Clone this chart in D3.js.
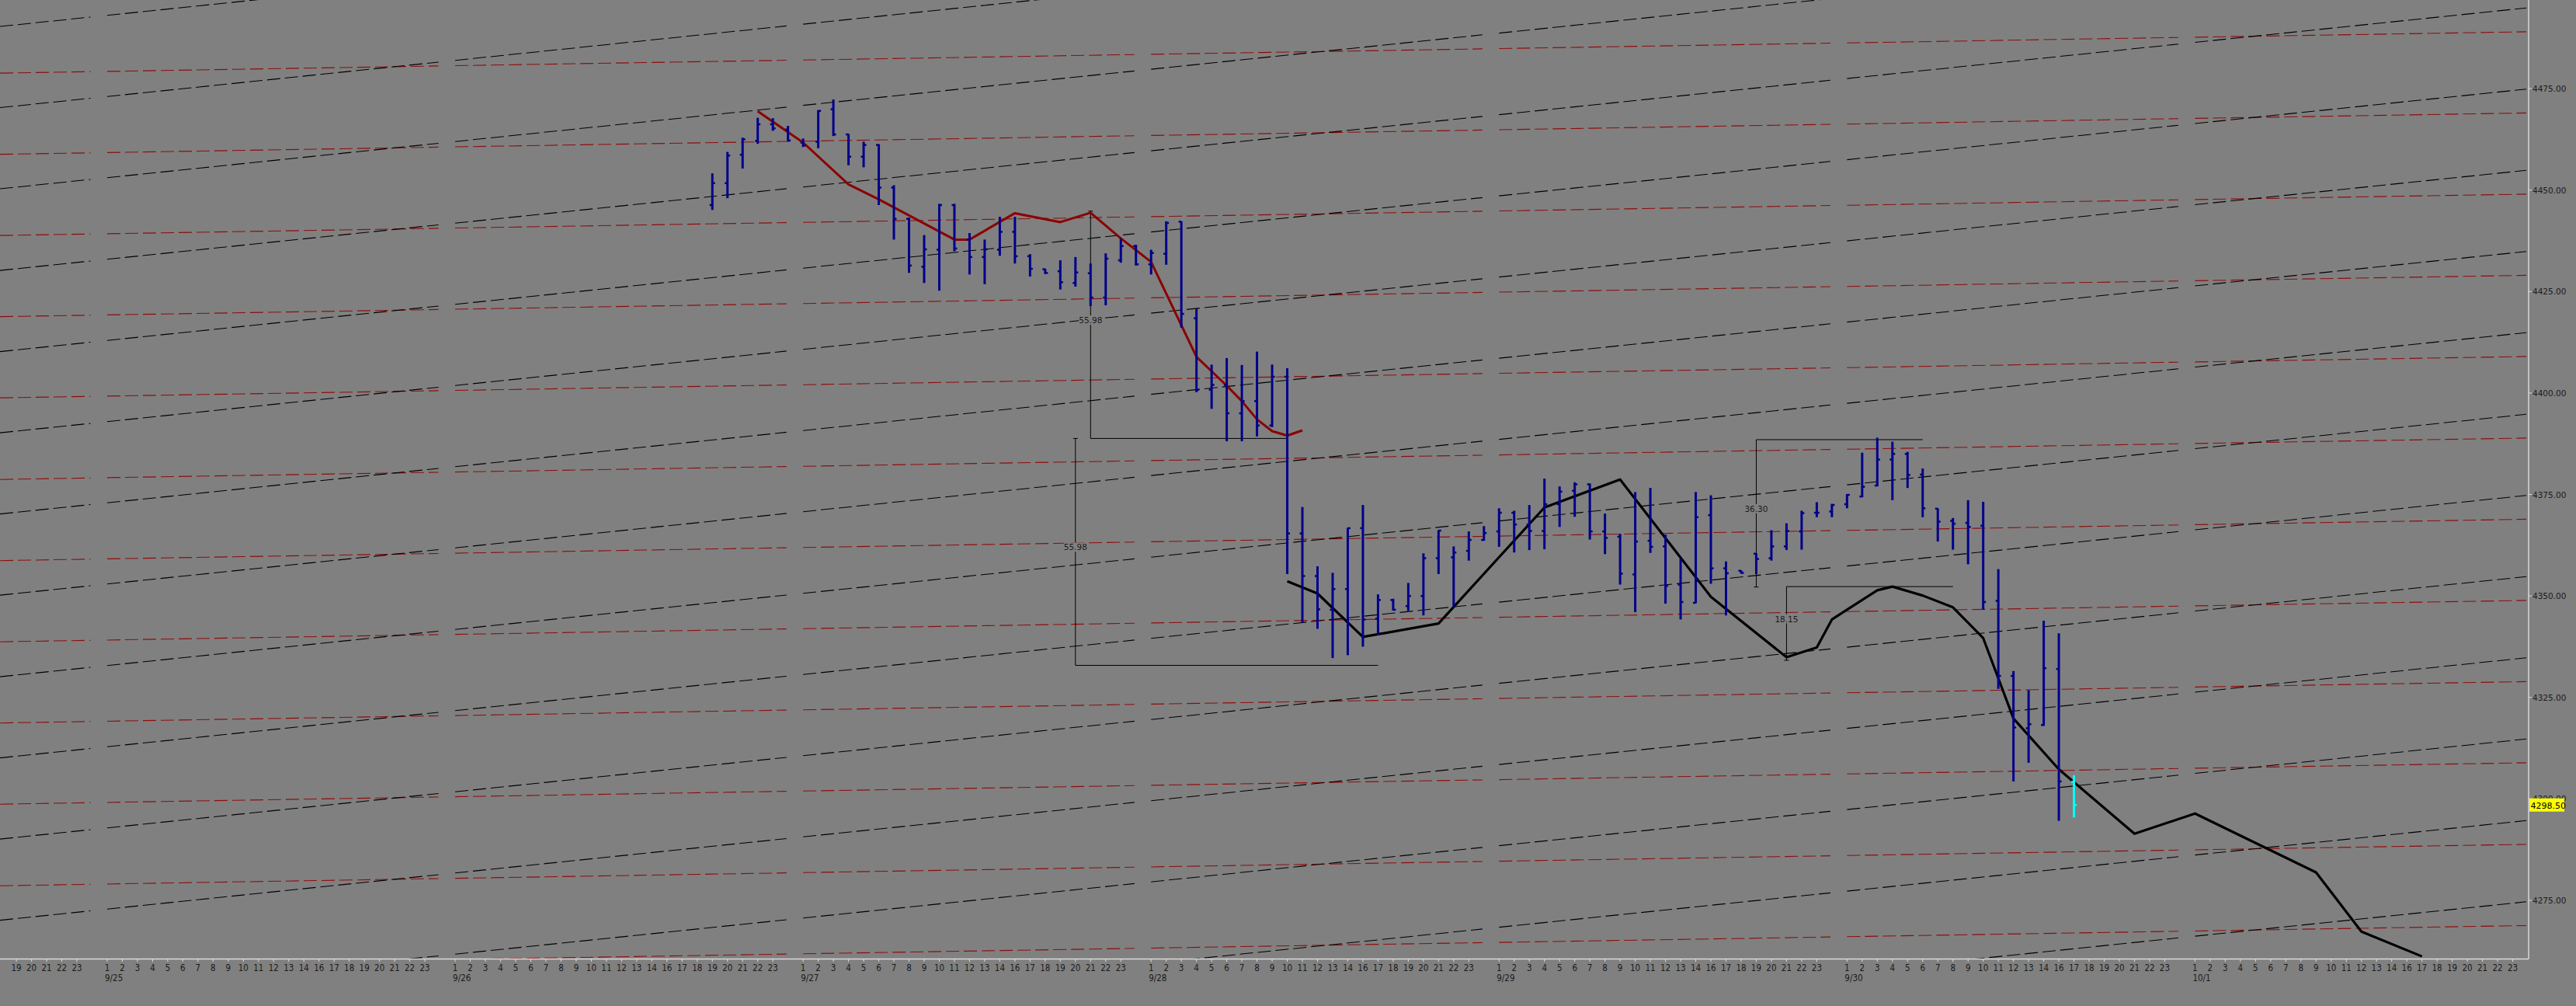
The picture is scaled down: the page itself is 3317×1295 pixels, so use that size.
<!DOCTYPE html>
<html><head><meta charset="utf-8">
<script src="https://cdn.jsdelivr.net/npm/d3@7"></script>
<style>html,body{margin:0;padding:0;background:#808080;overflow:hidden}svg{display:block}</style>
</head><body>
<svg id="c" width="3317" height="1295"></svg>
<script>
// ---------- data ----------
const days = ["9/24","9/25","9/26","9/27","9/28","9/29","9/30","10/1"];
const hourSlots = [1,2,3,4,5,6,7,8,9,10,11,12,13,14,16,17,18,19,20,21,22,23,24];
const hourLabels = [1,2,3,4,5,6,7,8,9,10,11,12,13,14,16,17,18,19,20,21,22,23];
const yTicks = [4275,4300,4325,4350,4375,4400,4425,4450,4475];
const lastPrice = 4298.50;
const firstBarTime = "9/26 19";

const opens  = [4446.3,4451.7,4458.7,4462.1,4466.2,4464.9,4461.7,4461.9,4469.9,4463.7,4458.2,4461.1,4450.6,4442.9,4431.1,4435.3,4446.3,4437.8,4433.5,4435.3,4439.7,4433.7,4430.5,4430.0,4427.1,4429.5,4423.5,4432.7,4436.2,4431.7,4434.3,4442.2,4418.4,4400.8,4402.0,4395.0,4398.0,4392.0,4404.0,4365.4,4354.9,4346.6,4351.7,4366.7,4344.4,4349.0,4347.5,4350.0,4359.3,4359.5,4361.1,4363.8,4365.9,4370.5,4367.6,4366.0,4372.6,4375.9,4377.5,4365.9,4364.6,4355.3,4363.6,4362.2,4352.8,4348.3,4369.9,4356.8,4356.2,4360.4,4359.3,4362.2,4365.9,4370.5,4370.8,4372.6,4374.5,4377.2,4383.6,4385.0,4379.9,4371.5,4368.5,4368.0,4367.3,4348.8,4330.3,4317.4,4318.2,4332.0,4304.2];
const highs  = [4454.1,4459.4,4462.9,4467.8,4467.7,4465.8,4462.7,4469.7,4472.3,4463.8,4461.9,4461.3,4451.2,4443.2,4438.9,4446.6,4446.6,4439.4,4437.8,4443.4,4443.4,4434.2,4430.6,4432.7,4433.5,4431.9,4434.4,4438.1,4436.5,4435.3,4442.3,4442.3,4420.8,4407.0,4408.6,4406.9,4410.2,4407.0,4406.1,4371.9,4357.3,4355.7,4366.8,4372.4,4350.4,4349.3,4353.2,4360.5,4366.2,4362.2,4365.9,4367.2,4371.6,4371.0,4372.4,4378.9,4377.0,4378.0,4377.7,4370.3,4365.3,4375.6,4376.6,4365.1,4359.2,4375.6,4374.8,4358.5,4356.3,4360.5,4366.2,4367.9,4371.0,4373.1,4372.7,4375.1,4385.3,4389.0,4388.0,4385.5,4381.4,4371.6,4369.2,4373.6,4373.2,4356.6,4331.5,4326.8,4343.9,4340.8,4305.8];
const lows   = [4445.1,4448.0,4455.3,4461.4,4464.6,4461.9,4460.6,4460.3,4463.3,4456.1,4455.6,4446.3,4437.8,4429.6,4427.1,4425.2,4434.9,4429.2,4426.8,4433.8,4431.9,4428.7,4429.3,4425.5,4426.2,4421.4,4421.6,4432.1,4431.4,4429.2,4431.6,4416.1,4400.2,4396.1,4388.1,4388.1,4389.3,4391.6,4355.4,4343.4,4341.9,4334.7,4335.4,4337.5,4340.4,4346.4,4346.3,4345.2,4355.4,4347.2,4358.7,4363.6,4362.1,4360.7,4361.3,4361.5,4367.0,4369.5,4363.9,4360.3,4352.8,4346.0,4360.6,4348.1,4344.2,4348.2,4353.0,4345.2,4355.5,4355.4,4358.7,4361.3,4361.4,4369.4,4369.4,4371.6,4374.3,4377.0,4373.6,4376.6,4369.4,4363.4,4361.4,4357.8,4346.6,4327.1,4304.3,4308.9,4318.0,4294.6,4295.4];
const closes = [4451.7,4458.5,4462.5,4466.2,4465.2,4462.2,4461.0,4469.5,4463.7,4458.2,4461.1,4450.6,4442.9,4431.4,4435.4,4446.3,4435.6,4433.5,4435.4,4439.7,4433.7,4430.6,4429.6,4427.3,4429.7,4423.5,4433.1,4436.2,4431.7,4434.5,4441.9,4419.5,4400.8,4402.0,4395.0,4398.0,4392.0,4404.0,4365.4,4354.9,4346.7,4351.7,4366.7,4344.2,4349.0,4346.6,4350.0,4359.3,4366.1,4360.7,4363.8,4365.5,4370.5,4367.6,4366.0,4372.6,4375.7,4377.5,4365.9,4364.3,4355.5,4363.4,4362.1,4352.5,4348.5,4369.4,4356.8,4355.6,4355.7,4359.1,4362.2,4366.0,4370.4,4370.5,4372.4,4374.9,4376.9,4383.6,4385.0,4379.8,4371.6,4368.3,4367.8,4367.0,4348.5,4330.3,4317.6,4318.4,4332.2,4304.3,4298.5];

// dark red smoothing line
const redLineTimes  = ["9/26 22","9/27 1","9/27 4","9/27 6","9/27 11","9/27 12","9/27 16","9/27 19","9/27 21","9/27 23","9/28 1","9/28 4","9/28 6","9/28 7","9/28 8","9/28 9","9/28 10","9/28 11"];
const redLineValues = [4469.4,4461.7,4451.4,4447.7,4437.8,4437.8,4444.3,4442.1,4444.4,4438.1,4432.3,4408.9,4401.8,4398.0,4393.5,4390.6,4389.5,4390.8];
// black projection line
const blackLineTimes  = ["9/28 10","9/28 12","9/28 16","9/28 21","9/29 4","9/29 9","9/29 16","9/29 21","9/29 23","9/29 24","9/30 3","9/30 4","9/30 6","9/30 8","9/30 10","9/30 12","9/30 16","9/30 21","10/1 1","10/1 9","10/1 12","10/1 17"];
const blackLineValues = [4353.6,4350.6,4339.9,4343.2,4371.8,4378.7,4349.8,4334.9,4337.3,4344.2,4351.4,4352.3,4350.1,4347.2,4339.6,4319.8,4307.3,4291.4,4296.4,4281.9,4267.3,4261.2];

// parallel channel lines: values at the left edge and right edge of the plot
const redChannelLeft  = [4478.8,4458.8,4438.8,4418.8,4398.8,4378.7,4358.7,4338.7,4318.7,4298.7,4278.6,4258.6];
const redChannelRight = [4489.0,4469.0,4449.0,4429.0,4409.0,4388.9,4368.9,4348.9,4328.9,4308.9,4288.8,4268.8];
const blackChannelLeft  = [4490.3,4470.3,4450.3,4430.2,4410.2,4390.2,4370.2,4350.2,4330.1,4310.1,4290.1,4270.1,4250.1,4230.0,4210.0];
const blackChannelRight = [4555.0,4535.0,4515.0,4494.9,4474.9,4454.9,4434.9,4414.9,4394.8,4374.8,4354.8,4334.8,4314.8,4294.7,4274.7];

// measurement annotations
const measureLabels = ["55.98","55.98","36.30","18.15"];
const measureAtTime = ["9/27 21","9/27 20","9/29 19","9/29 21"];
const measureToTime = ["9/28 10","9/28 17","9/30 6","9/30 8"];
const measureHigh   = [4444.8,4388.8,4388.5,4352.3];
const measureLow    = [4388.8,4332.9,4352.2,4334.15];
const measureArmAt  = ["low","low","high","high"];

// ---------- layout ----------
const W = 3317, H = 1295, plotR = 3255, plotB = 1234;
const svg = d3.select("#c");
svg.append("rect").attr("width",W).attr("height",H).attr("fill","#808080");

const slotOf = t => { const [d,h] = t.split(" "); return days.indexOf(d)*23 + hourSlots.indexOf(+h); };
const x = d3.scaleLinear().domain([15.916, 183.0]).range([0, plotR]);
const y = d3.scaleLinear().domain([4260.65, 4496.82]).range([plotB, 0]);
const sMin = x.domain()[0], sMax = x.domain()[1];

const defs = svg.append("defs");
defs.append("clipPath").attr("id","plot").append("rect").attr("x",0).attr("y",0).attr("width",plotR).attr("height",plotB);
const g = svg.append("g").attr("clip-path","url(#plot)");

// channel lines, broken at each day boundary slot
const segs = [];
for (let d = 0; d <= days.length; d++) {
  const a = Math.max(sMin, d*23), b = Math.min(sMax, (d+1)*23 - 1.1);
  if (b > a) segs.push([a,b]);
}
function channel(left, right, color) {
  const gg = g.append("g");
  left.forEach((vl,i) => {
    const vr = right[i];
    const val = s => vl + (vr - vl)*(s - sMin)/(sMax - sMin);
    segs.forEach(([a,b]) => {
      gg.append("line").attr("x1",x(a)).attr("x2",x(b)).attr("y1",y(val(a))).attr("y2",y(val(b)))
        .attr("stroke",color).attr("stroke-width",1.1).attr("stroke-dasharray","17,6");
    });
  });
}
channel(redChannelLeft, redChannelRight, "#8e0d0d");
channel(blackChannelLeft, blackChannelRight, "#000000");

// measurement annotations
measureLabels.forEach((lab,i) => {
  const xs = x(slotOf(measureAtTime[i])), xe = x(slotOf(measureToTime[i]));
  const yh = y(measureHigh[i]), yl = y(measureLow[i]);
  const armY = measureArmAt[i] === "low" ? yl : yh;
  const capY = measureArmAt[i] === "low" ? yh : yl;
  g.append("line").attr("x1",xs).attr("x2",xs).attr("y1",yh).attr("y2",yl).attr("stroke","#000").attr("stroke-width",1);
  g.append("line").attr("x1",xs).attr("x2",xe).attr("y1",armY).attr("y2",armY).attr("stroke","#000").attr("stroke-width",1);
  g.append("line").attr("x1",xs-3).attr("x2",xs+3).attr("y1",capY).attr("y2",capY).attr("stroke","#000").attr("stroke-width",1);
  const ym = (yh+yl)/2 - 6;
  g.append("rect").attr("x",xs-15).attr("y",ym-6).attr("width",30).attr("height",12).attr("fill","#808080");
  g.append("text").attr("x",xs).attr("y",ym+4).attr("text-anchor","middle")
    .attr("font-family","'DejaVu Sans', Verdana, sans-serif").attr("font-size",10.5).attr("fill","#1b1b1b").text(lab);
});

// red smoothing line and black projection line
const lineGen = d3.line().x(d => x(d[0])).y(d => y(d[1]));
g.append("path").datum(redLineTimes.map((t,i)=>[slotOf(t), redLineValues[i]]))
  .attr("d", lineGen).attr("fill","none").attr("stroke","#8b0000").attr("stroke-width",3).attr("stroke-linejoin","round");
g.append("path").datum(blackLineTimes.map((t,i)=>[slotOf(t), blackLineValues[i]]))
  .attr("d", lineGen).attr("fill","none").attr("stroke","#000").attr("stroke-width",3.2).attr("stroke-linejoin","round");

// OHLC bars
const s0 = slotOf(firstBarTime);
const bars = closes.map((c,i) => ({s: s0 + i, o: opens[i], h: highs[i], l: lows[i], c, last: i === closes.length-1}));
const bg = g.append("g").selectAll("g").data(bars).join("g");
const barColor = d => d.last ? "#00ffff" : "#00008b";
bg.append("line").attr("x1",d=>x(d.s)).attr("x2",d=>x(d.s)).attr("y1",d=>y(d.h)).attr("y2",d=>y(d.l))
  .attr("stroke",barColor).attr("stroke-width",3);
bg.append("line").attr("x1",d=>x(d.s)-3.5).attr("x2",d=>x(d.s)).attr("y1",d=>y(d.o)).attr("y2",d=>y(d.o))
  .attr("stroke",barColor).attr("stroke-width",2.5);
bg.append("line").attr("x1",d=>x(d.s)).attr("x2",d=>x(d.s)+3.5).attr("y1",d=>y(d.c)).attr("y2",d=>y(d.c))
  .attr("stroke",barColor).attr("stroke-width",2.5);

// ---------- axes ----------
const axisColor = "#d9d9d9";
svg.append("line").attr("x1",0).attr("x2",plotR+1).attr("y1",plotB+0.5).attr("y2",plotB+0.5).attr("stroke",axisColor).attr("stroke-width",1.5);
svg.append("line").attr("x1",plotR+1).attr("x2",plotR+1).attr("y1",0).attr("y2",plotB+0.5).attr("stroke",axisColor).attr("stroke-width",1.5);

const narrow = "'Liberation Sans Narrow','DejaVu Sans Condensed','Liberation Sans',sans-serif";
const xt = svg.append("g");
days.forEach((d,di) => {
  hourLabels.forEach(h => {
    const s = di*23 + hourSlots.indexOf(h);
    const px = x(s);
    if (px < 8 || px > plotR - 8) return;
    xt.append("line").attr("x1",px).attr("x2",px).attr("y1",plotB).attr("y2",plotB+4).attr("stroke",axisColor).attr("stroke-width",1);
    xt.append("text").attr("x",px).attr("y",plotB+16).attr("text-anchor","middle")
      .attr("font-family",narrow).attr("font-size",11.5).attr("fill","#1b1b1b").text(h);
    if (h === 1) {
      xt.append("text").attr("x",px-3).attr("y",plotB+29).attr("text-anchor","start")
        .attr("font-family",narrow).attr("font-size",11.5).attr("fill","#1b1b1b").text(d);
    }
  });
});

const yt = svg.append("g");
yTicks.forEach(v => {
  yt.append("line").attr("x1",plotR+1).attr("x2",plotR+5).attr("y1",y(v)).attr("y2",y(v)).attr("stroke",axisColor).attr("stroke-width",1);
  yt.append("text").attr("x",plotR+6).attr("y",y(v)+4).attr("font-family","'DejaVu Sans', Verdana, sans-serif")
    .attr("font-size",10.5).attr("fill","#1b1b1b").text(d3.format(".2f")(v));
});
const ly = y(lastPrice);
yt.append("rect").attr("x",plotR+2).attr("y",ly-8.5).attr("width",45).attr("height",17).attr("fill","#ffff00");
yt.append("text").attr("x",plotR+3.5).attr("y",ly+4.5).attr("font-family","'DejaVu Sans', Verdana, sans-serif")
  .attr("font-size",11).attr("fill","#000").text(d3.format(".2f")(lastPrice));
</script>
</body></html>
